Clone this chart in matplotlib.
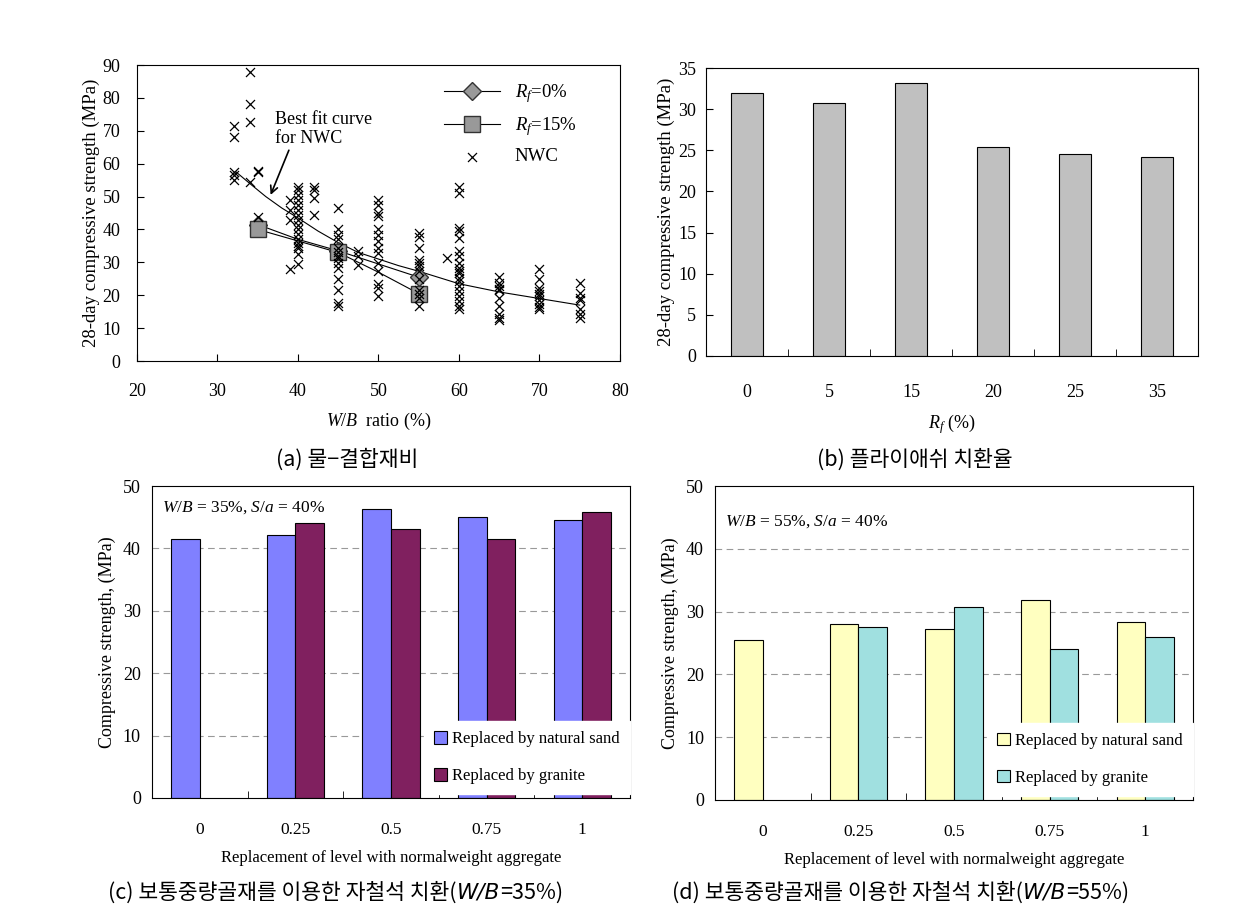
import numpy as np
import matplotlib
matplotlib.use("Agg")
import matplotlib.pyplot as plt
from matplotlib.ticker import MultipleLocator, FixedLocator

plt.rcParams['font.family'] = ['Liberation Serif', 'Noto Sans CJK KR', 'DejaVu Sans']
plt.rcParams['mathtext.fontset'] = 'custom'
plt.rcParams['mathtext.rm'] = 'Liberation Serif'
plt.rcParams['mathtext.it'] = 'Liberation Serif:italic'
plt.rcParams['font.size'] = 12

# ---- (a) data: W/B ratio vs 28-day strength ----
nwc_x = [32, 32, 32, 32, 32, 34, 34, 34, 34, 35, 35, 35,
         39, 39, 39, 39,
         40, 40, 40, 40, 40, 40, 40, 40, 40, 40, 40, 40, 40, 40, 40, 40, 40,
         42, 42, 42, 42,
         45, 45, 45, 45, 45, 45, 45, 45, 45, 45, 45, 45, 45, 45,
         47.5, 47.5, 47.5,
         50, 50, 50, 50, 50, 50, 50, 50, 50, 50, 50, 50, 50, 50,
         55, 55, 55, 55, 55, 55, 55, 55, 55, 55, 55, 55,
         58.5,
         60, 60, 60, 60, 60, 60, 60, 60, 60, 60, 60, 60, 60, 60, 60, 60, 60, 60, 60,
         65, 65, 65, 65, 65, 65, 65, 65, 65, 65,
         70, 70, 70, 70, 70, 70, 70, 70, 70, 70,
         75, 75, 75, 75, 75, 75, 75]
nwc_y = [71.5, 68, 57.6, 56.5, 55, 87.9, 78.2, 72.8, 54.3, 57.9, 57.5, 43.7,
         49, 46, 43, 28,
         53, 52, 50.5, 49, 47.5, 46, 44.5, 43, 41.5, 40, 38.5, 37, 36, 34.5, 32.5, 29.5, 35,
         52.9, 52, 49.5, 44.3,
         46.4, 40, 38.4, 37, 34.4, 33, 31.3, 29.8, 28.3, 24.8, 21.7, 17.7, 16.7, 32,
         33.4, 31.8, 29.3,
         49, 47.5, 45, 44, 40, 38.4, 36.4, 34.4, 32.9, 29.8, 27.3, 23.3, 22.2, 19.7,
         38.9, 37.7, 34.4, 30.8, 29.8, 28.8, 27.3, 24.8, 21.7, 19.2, 16.7, 20.5,
         31.3,
         53, 51, 40.4, 39.4, 37.4, 33.4, 31.8, 29.8, 28.3, 26.8, 25.3, 24.3, 22.8, 21.2,
         19.7, 18.2, 16.7, 15.7, 27.5,
         25.5, 23.8, 22.8, 21.7, 19.2, 16.7, 14.2, 13.1, 12.4, 22,
         28, 25, 22.2, 21.2, 19.7, 18.7, 17.2, 15.7, 20.5, 16.5,
         23.8, 20.7, 19.2, 15.9, 14.2, 13.1, 18.5]
fit_x = [32.3, 34, 36, 38, 40, 42.5, 45, 47.5, 50, 52.5, 55, 57.5, 60, 65, 70, 75]
fit_y = [57.5, 54, 50, 46.5, 43.5, 39.5, 36, 33, 31, 29, 27.3, 25.4, 23.5, 21, 19, 17]
rf_x = [35, 40, 45, 50, 55]
rf0_y = [41.5, 37, 33.5, 29.5, 25.5]
rf15_y = [40, 36.5, 33, 27, 20.5]

# ---- (b) data ----
rf_cats = ['0', '5', '15', '20', '25', '35']
rf_strength = [32.0, 30.8, 33.2, 25.4, 24.5, 24.2]

# ---- (c), (d) data ----
levels = ['0', '0.25', '0.5', '0.75', '1']
sand_35 = [41.5, 42.2, 46.3, 45.0, 44.5]
granite_35 = [np.nan, 44.1, 43.1, 41.5, 45.8]
sand_55 = [25.5, 28.0, 27.2, 31.9, 28.3]
granite_55 = [np.nan, 27.5, 30.8, 24.1, 25.9]

fig = plt.figure(figsize=(12.58, 9.17), dpi=100)
ax_a = fig.add_axes([0.1089, 0.6063, 0.3839, 0.3228])
ax_b = fig.add_axes([0.5612, 0.6118, 0.3911, 0.3140])
ax_c = fig.add_axes([0.1208, 0.1298, 0.3800, 0.3402])
ax_d = fig.add_axes([0.5684, 0.1276, 0.3800, 0.3424])

# (a)
ax_a.plot(fit_x, fit_y, color='black', lw=0.8)
ax_a.plot(rf_x, rf0_y, color='black', lw=0.8, marker='D', ms=9, mfc='#999999',
          mec='#333333', markevery=[0, 2, 4], label=r'$R_f$=0%')
ax_a.plot(rf_x, rf15_y, color='black', lw=0.8, marker='s', ms=11, mfc='#999999',
          mec='#333333', markevery=[0, 2, 4], label=r'$R_f$=15%')
ax_a.scatter(nwc_x, nwc_y, marker='x', s=42, color='black', linewidths=0.9,
             label='NWC', zorder=3)
ax_a.set_xlim(20, 80)
ax_a.set_ylim(0, 90)
ax_a.xaxis.set_major_locator(MultipleLocator(10))
ax_a.yaxis.set_major_locator(MultipleLocator(10))
ax_a.tick_params(direction='in', length=5, labelsize=13)
ax_a.tick_params(axis='x', pad=16)
ax_a.tick_params(axis='y', pad=12)
ax_a.set_xlabel(r'$W/B$  ratio (%)', fontsize=13, labelpad=8)
ax_a.set_ylabel('28-day compressive strength (MPa)', fontsize=13.5, labelpad=2)
ax_a.annotate('Best fit curve\nfor NWC', xy=(36.6, 50.5), xytext=(37.2, 70.5),
              fontsize=13, va='center', ha='left',
              arrowprops=dict(arrowstyle='->', color='black', lw=1.2,
                              shrinkA=0, shrinkB=0, relpos=(0.15, 0)))
ax_a.legend(loc='upper left', bbox_to_anchor=(0.6, 1.0), frameon=False,
            fontsize=13.5, handlelength=3.0, labelspacing=0.55)

# (b)
xb = np.arange(len(rf_cats))
ax_b.bar(xb, rf_strength, width=0.4, color='#c0c0c0', edgecolor='black', lw=0.8)
ax_b.set_xlim(-0.5, len(rf_cats) - 0.5)
ax_b.set_ylim(0, 35)
ax_b.yaxis.set_major_locator(MultipleLocator(5))
ax_b.set_xticks(xb)
ax_b.set_xticklabels(rf_cats)
ax_b.xaxis.set_minor_locator(FixedLocator(xb[:-1] + 0.5))
ax_b.tick_params(axis='x', which='major', length=0, pad=20, labelsize=13)
ax_b.tick_params(axis='x', which='minor', direction='in', length=5)
ax_b.tick_params(axis='y', direction='in', length=5, labelsize=13, pad=7)
ax_b.set_xlabel(r'$R_f$ (%)', fontsize=13, labelpad=8)
ax_b.set_ylabel('28-day compressive strength (MPa)', fontsize=13.5, labelpad=2)


def grouped(ax, sand, granite, c_sand, c_gran, note):
    x = np.arange(len(levels))
    ax.bar(x - 0.15, sand, width=0.3, color=c_sand, edgecolor='black', lw=0.8,
           label='Replaced by natural sand', zorder=2)
    ax.bar(x + 0.15, granite, width=0.3, color=c_gran, edgecolor='black', lw=0.8,
           label='Replaced by granite', zorder=2)
    ax.set_xlim(-0.5, len(levels) - 0.5)
    ax.set_ylim(0, 50)
    ax.yaxis.set_major_locator(MultipleLocator(10))
    for g in [10, 20, 30, 40]:
        ax.axhline(g, color='#999999', lw=0.8, dashes=(6, 4), zorder=1)
    ax.set_xticks(x)
    ax.set_xticklabels(levels)
    ax.xaxis.set_minor_locator(FixedLocator(x[:-1] + 0.5))
    ax.tick_params(axis='x', which='major', length=0, pad=17, labelsize=12.5)
    ax.tick_params(axis='x', which='minor', direction='in', length=5)
    ax.tick_params(axis='y', direction='in', length=0, labelsize=13, pad=8)
    ax.set_xlabel('Replacement of level with normalweight aggregate', fontsize=12, labelpad=9)
    ax.set_ylabel('Compressive strength, (MPa)', fontsize=13, labelpad=5)
    ax.text(0.02, 0.93 if '35' in note else 0.885, note, transform=ax.transAxes,
            fontsize=12.5, ha='left', va='center')
    leg = ax.legend(loc='lower right', bbox_to_anchor=(1.0, 0.013), fontsize=12,
                    handlelength=0.8, handleheight=0.8, handletextpad=0.3,
                    labelspacing=1.25, fancybox=False, framealpha=1,
                    borderaxespad=0, borderpad=0.6)
    leg.get_frame().set_edgecolor('white')
    leg.set_zorder(5)


grouped(ax_c, sand_35, granite_35, '#8080ff', '#80205f',
        r'$W/B$ = 35%, $S/a$ = 40%')
grouped(ax_d, sand_55, granite_55, '#ffffc0', '#a0e0e0',
        r'$W/B$ = 55%, $S/a$ = 40%')

# captions (Korean, with italic W/B)
renderer = fig.canvas.get_renderer()
W = fig.get_figwidth() * fig.dpi


def caption(xc, y, parts):
    objs = []
    for txt, it in parts:
        if it:
            t = fig.text(0, y, txt, fontsize=15.5, family=['DejaVu Sans'],
                         style='italic', va='center')
        else:
            t = fig.text(0, y, txt, fontsize=15.5,
                         family=['Noto Sans CJK KR', 'DejaVu Sans'], va='center')
        objs.append(t)
    widths = [o.get_window_extent(renderer).width / W for o in objs]
    x = xc - sum(widths) / 2
    for o, w in zip(objs, widths):
        o.set_x(x)
        x += w


caption(0.276, 1 - 460 / 917, [('(a) 물−결합재비', False)])
caption(0.727, 1 - 460 / 917, [('(b) 플라이애쉬 치환율', False)])
caption(0.267, 1 - 893 / 917, [('(c) 보통중량골재를 이용한 자철석 치환(', False),
                               ('W/B', True), ('=35%)', False)])
caption(0.716, 1 - 893 / 917, [('(d) 보통중량골재를 이용한 자철석 치환(', False),
                               ('W/B', True), ('=55%)', False)])

fig.savefig('out.png', dpi=100)
